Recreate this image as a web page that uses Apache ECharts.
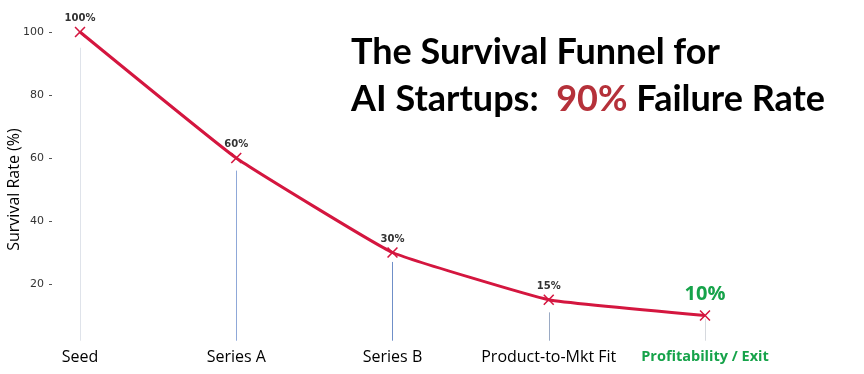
<!DOCTYPE html>
<html><head><meta charset="utf-8">
<script src="https://cdn.jsdelivr.net/npm/echarts@6/dist/echarts.min.js"></script>
<style>html,body{margin:0;padding:0;background:#fff}#c{width:864px;height:374px}</style>
</head><body><div id="c"></div>
<script>
const categories = ['Seed', 'Series A', 'Series B', 'Product-to-Mkt Fit', 'Profitability / Exit'];
const survival = [100, 60, 30, 15, 10];
const dropTops = [95, 56, 27, 11, 9];
const dropColors = ['#dfe3ea', '#8fa8d8', '#6f8fc8', '#9aaac4', '#d6d9de'];
const yTicks = [20, 40, 60, 80, 100];

const xPath = 'path://M1,0 L5,4 L9,0 L10,1 L6,5 L10,9 L9,10 L5,6 L1,10 L0,9 L4,5 L0,1 Z';

const chart = echarts.init(document.getElementById('c'));

const markData = categories.map(function (c, i) {
  const ls = {color: dropColors[i], width: 1, type: 'solid'};
  return [
    {coord: [c, dropTops[i]], lineStyle: ls},
    {coord: [c, 2], lineStyle: ls}
  ];
});

chart.setOption({
  animation: false,
  backgroundColor: '#fff',
  title: {
    left: 346, top: 24,
    text: '{a|The Survival Funnel for}\n{a|AI Startups:  }{r|90%}{a| Failure Rate}',
    textStyle: {
      rich: {
        a: {fontFamily: 'Lato', fontWeight: 'bold', fontSize: 36, color: '#000', lineHeight: 47},
        r: {fontFamily: 'Lato', fontWeight: 'bold', fontSize: 36, color: '#b5313a', lineHeight: 47}
      }
    }
  },
  grid: {left: 80, right: 159, top: 32, bottom: 27, outerBoundsMode: 'none', containLabel: false},
  xAxis: {
    type: 'category', data: categories, boundaryGap: false,
    axisLine: {show: false}, axisTick: {show: false}, splitLine: {show: false},
    axisLabel: {
      interval: 0, margin: 2, fontSize: 16, color: '#000', fontFamily: 'Open Sans',
      formatter: function (v) { return v === 'Profitability / Exit' ? '{g|' + v + '}' : v; },
      rich: {g: {color: '#16a34a', fontWeight: 'bold', fontSize: 14.5, fontFamily: 'Open Sans'}}
    }
  },
  yAxis: {
    type: 'value', min: 0, max: 100, interval: 20, offset: 28,
    name: 'Survival Rate (%)', nameLocation: 'middle', nameGap: 30, nameRotate: 90,
    nameMoveOverlap: false,
    nameTextStyle: {fontSize: 16, color: '#000', fontFamily: 'Open Sans'},
    axisLine: {show: false},
    axisTick: {show: true, length: 3, lineStyle: {color: '#555'}},
    axisLabel: {showMinLabel: false, fontSize: 11, color: '#333', margin: 8, fontFamily: 'DejaVu Sans'},
    splitLine: {show: false}
  },
  series: [
    {
      type: 'line', smooth: 0.1,
      data: survival.map(function (v, i) {
        if (i === survival.length - 1) {
          return {value: v, label: {fontSize: 20, color: '#16a34a', fontFamily: 'Open Sans', distance: 6}};
        }
        return v;
      }),
      lineStyle: {color: '#d4163f', width: 3},
      itemStyle: {color: '#d4163f'},
      symbol: xPath, symbolSize: 11,
      label: {
        show: true, position: 'top', distance: 3,
        formatter: function (p) { return p.value + '%'; },
        fontSize: 10, fontWeight: 'bold', color: '#333', fontFamily: 'DejaVu Sans'
      },
      emphasis: {disabled: true},
      markLine: {
        silent: true, symbol: 'none', label: {show: false},
        lineStyle: {width: 1, type: 'solid'},
        data: markData
      },
      z: 3
    }
  ]
});
</script>
</body></html>
